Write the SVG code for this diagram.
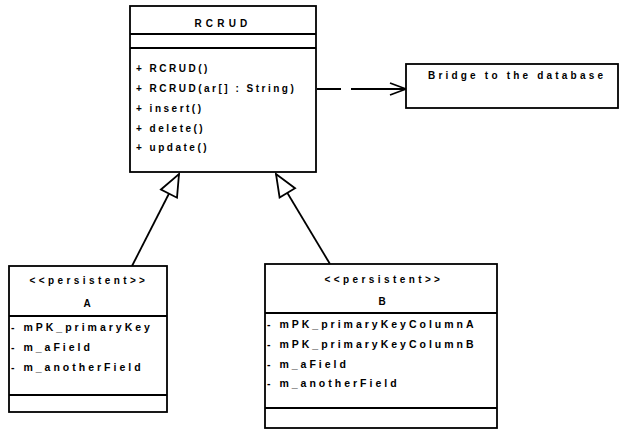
<svg xmlns="http://www.w3.org/2000/svg" width="621" height="431" viewBox="0 0 621 431">
  <style>
    .box { fill: #ffffff; stroke: #000000; stroke-width: 1.8; }
    .sep { stroke: #000000; stroke-width: 1.8; fill: none; }
    .t { font-family: "Liberation Sans", Arial, sans-serif; font-size: 10px; font-weight: bold; fill: #000000; }
    .title { letter-spacing: 4.2px; }
    .op { letter-spacing: 2.5px; }
    .st { letter-spacing: 3.4px; }
    .attr { font-size: 10.5px; letter-spacing: 3px; }
    .note { letter-spacing: 3.2px; }
    .c { text-anchor: middle; }
    .edge { stroke: #000000; stroke-width: 1.8; fill: none; }
    .dash { stroke-dasharray: 24 10 60 10; }
  </style>
  <defs>
    <marker id="gen" markerUnits="userSpaceOnUse" markerWidth="26" markerHeight="22" viewBox="0 0 26 22" refX="24" refY="11" orient="auto">
      <path d="M2,2 L24,11 L2,20 Z" fill="#ffffff" stroke="#000000" stroke-width="1.8"/>
    </marker>
    <marker id="open" markerUnits="userSpaceOnUse" markerWidth="18" markerHeight="16" viewBox="0 0 18 16" refX="17" refY="8" orient="auto">
      <path d="M1,2 L17,8 L1,14" fill="none" stroke="#000000" stroke-width="1.8"/>
    </marker>
  </defs>

  <g id="connectors">
    <line class="edge" x1="132" y1="266" x2="179" y2="174" marker-end="url(#gen)"/>
    <line class="edge" x1="330" y1="264" x2="276" y2="174" marker-end="url(#gen)"/>
    <line class="edge dash" x1="317" y1="89" x2="406" y2="89" marker-end="url(#open)"/>
  </g>

  <g id="RCRUD">
    <rect class="box" x="130" y="6" width="186" height="166"/>
    <line class="sep" x1="130" y1="34" x2="316" y2="34"/>
    <line class="sep" x1="130" y1="48" x2="316" y2="48"/>
    <text class="t c title" x="223" y="27">RCRUD</text>
    <text class="t op" x="136" y="72">+ RCRUD()</text>
    <text class="t op" x="136" y="92">+ RCRUD(ar[] : String)</text>
    <text class="t op" x="136" y="112">+ insert()</text>
    <text class="t op" x="136" y="132">+ delete()</text>
    <text class="t op" x="136" y="151">+ update()</text>
  </g>

  <g id="Bridge">
    <rect class="box" x="406" y="64" width="212" height="44"/>
    <text class="t note" x="428" y="79">Bridge to the database</text>
  </g>

  <g id="A">
    <rect class="box" x="9" y="266" width="158" height="146"/>
    <line class="sep" x1="9" y1="316" x2="167" y2="316"/>
    <line class="sep" x1="9" y1="395" x2="167" y2="395"/>
    <text class="t c st" x="89" y="284">&lt;&lt;persistent&gt;&gt;</text>
    <text class="t c" x="87" y="307">A</text>
    <text class="t attr" x="11" y="331">- mPK_primaryKey</text>
    <text class="t attr" x="11" y="351">- m_aField</text>
    <text class="t attr" x="11" y="371">- m_anotherField</text>
  </g>

  <g id="B">
    <rect class="box" x="265" y="264" width="232" height="164"/>
    <line class="sep" x1="265" y1="313" x2="497" y2="313"/>
    <line class="sep" x1="265" y1="408" x2="497" y2="408"/>
    <text class="t c st" x="384" y="283">&lt;&lt;persistent&gt;&gt;</text>
    <text class="t c" x="382" y="305">B</text>
    <text class="t attr" x="267" y="328">- mPK_primaryKeyColumnA</text>
    <text class="t attr" x="267" y="348">- mPK_primaryKeyColumnB</text>
    <text class="t attr" x="267" y="368">- m_aField</text>
    <text class="t attr" x="267" y="387">- m_anotherField</text>
  </g>
</svg>
